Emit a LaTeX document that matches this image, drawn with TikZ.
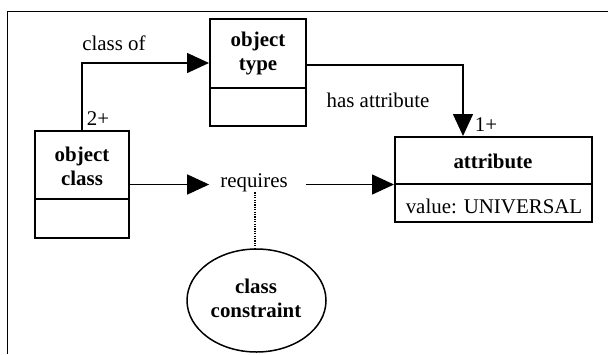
\documentclass[tikz,border=0pt]{standalone}
\usepackage{fontspec}
\setmainfont{Liberation Serif}
\usetikzlibrary{arrows.meta,shapes.geometric}
\begin{document}
\begin{tikzpicture}[x=1pt,y=-1pt,
  every node/.style={font=\fontsize{20.9}{24}\selectfont},
  classbox/.style={draw,line width=2pt,rectangle,inner sep=0pt},
  title/.style={font=\fontsize{20.9}{24}\selectfont\bfseries,align=center,inner sep=0pt},
  lbl/.style={inner sep=0pt},
  conn/.style={line width=1.5pt,-{Triangle[length=22pt,width=20pt]}},
  divider/.style={line width=2pt}]
\useasboundingbox (0,0) rectangle (608,354);

% outer frame (top and left edges)
\draw[line width=1.5pt] (7.5,354) -- (7.5,11.5) -- (608,11.5);

% object type
\node[classbox,minimum width=96pt,minimum height=107pt] (otbox) at (258,72.5) {};
\node[title] (ottitle) at (258,54) {object\\type};
\draw[divider] (otbox.west |- 0,88) -- (otbox.east |- 0,88);

% object class
\node[classbox,minimum width=94pt,minimum height=107pt] (ocbox) at (82,184.5) {};
\node[title] (octitle) at (82,166) {object\\class};
\draw[divider] (ocbox.west |- 0,199) -- (ocbox.east |- 0,199);

% attribute
\node[classbox,minimum width=197pt,minimum height=85pt] (attr) at (493.5,179.5) {};
\node[title] (attrtitle) at (493,161) {attribute};
\node[lbl] (attrval) at (494,206) {value: UNIVERSAL};
\draw[divider] (attr.west |- 0,184) -- (attr.east |- 0,184);

% class constraint
\node[draw,ellipse,line width=1.5pt,minimum width=139pt,minimum height=103pt,inner sep=0pt] (cc) at (256.5,300.5) {};
\node[title] (cctitle) at (256,298) {class\\constraint};

% class of
\coordinate (cofend) at (otbox.west |- 0,63);
\draw[conn] (ocbox.north) |- (cofend);
\node[lbl] (cof) at (114,43) {class of};
\node[lbl] (m2) at (98,119) {2+};

% has attribute
\coordinate (hastart) at (otbox.east |- 0,65);
\coordinate (haend) at (attr.north -| 463,0);
\draw[conn] (hastart) -| (haend);
\node[lbl] (ha) at (378,100) {has attribute};
\node[lbl] (m1) at (486,125) {1+};

% requires
\node[lbl] (req) at (254,183) {requires};
\draw[conn] (ocbox.east) -- ([xshift=-11pt]req.west |- ocbox.east);
\draw[conn] ([xshift=18pt]req.east |- ocbox.east) -- (attr.west |- ocbox.east);
\draw[line width=1.3pt,dash pattern=on 1.2pt off 1.2pt] (req.south -| 255,0) -- (cc.north -| 255,0);
\end{tikzpicture}
\end{document}
